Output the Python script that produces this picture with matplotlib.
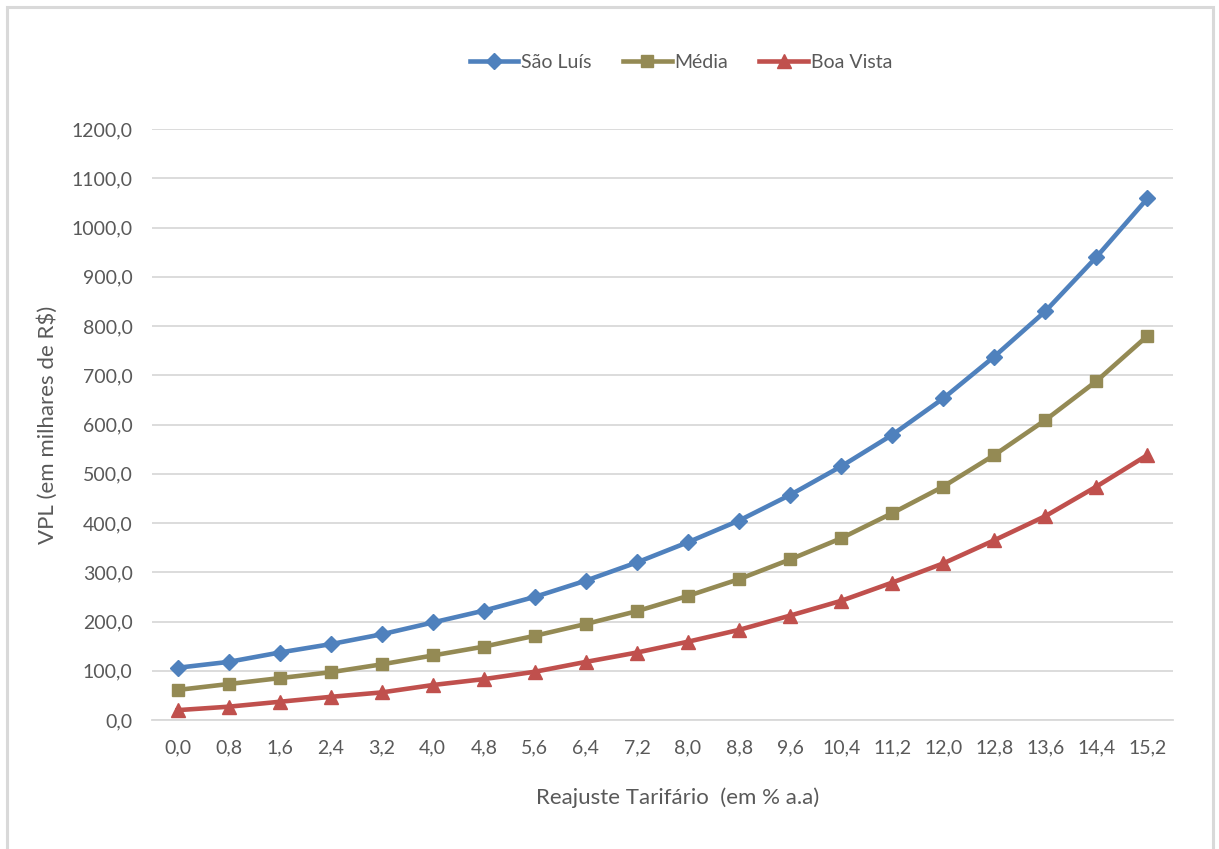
import matplotlib
matplotlib.use("Agg")
import matplotlib.pyplot as plt
from matplotlib.patches import Rectangle
from matplotlib.ticker import FuncFormatter, MultipleLocator

# Reajuste tarifário (% a.a.) and VPL (milhares de R$)
reajuste = ["0,0", "0,8", "1,6", "2,4", "3,2", "4,0", "4,8", "5,6", "6,4", "7,2",
            "8,0", "8,8", "9,6", "10,4", "11,2", "12,0", "12,8", "13,6", "14,4", "15,2"]
sao_luis = [106, 118, 137, 154, 174, 198, 222, 250, 283, 320,
            361, 405, 457, 515, 579, 653, 738, 830, 940, 1059]
media = [61, 73, 85, 97, 113, 131, 149, 171, 195, 221,
         252, 286, 326, 369, 420, 474, 538, 609, 688, 780]
boa_vista = [20, 27, 37, 47, 56, 71, 83, 98, 118, 137,
             159, 183, 212, 242, 279, 318, 365, 414, 474, 538]

plt.rcParams['font.family'] = ['Lato', 'DejaVu Sans']
text_color = "#595959"

W, H = 1219, 849
fig = plt.figure(figsize=(W / 100, H / 100), dpi=100)
fig.patch.set_facecolor("white")

# outer chart frame
fig.add_artist(Rectangle((7 / W, -0.05), (1213 - 7) / W, 1.05 - 7 / H,
                         transform=fig.transFigure, fill=False,
                         edgecolor="#d9d9d9", linewidth=2.2, clip_on=False))

left, right, top, bottom = 152, 1173, 129, 720
ax = fig.add_axes([left / W, 1 - bottom / H, (right - left) / W, (bottom - top) / H])

x = list(range(len(reajuste)))
ax.plot(x, sao_luis, color="#4F81BD", lw=3.3, marker="D", ms=8.5,
        label="São Luís", zorder=3)
ax.plot(x, media, color="#948A54", lw=3.3, marker="s", ms=8.5,
        label="Média", zorder=3)
ax.plot(x, boa_vista, color="#C0504D", lw=3.3, marker="^", ms=9.5,
        label="Boa Vista", zorder=3)

ax.set_xlim(-0.5, len(reajuste) - 0.5)
ax.set_ylim(0, 1200)
ax.yaxis.set_major_locator(MultipleLocator(100))
ax.yaxis.set_major_formatter(FuncFormatter(lambda v, p: f"{v:.1f}".replace(".", ",")))
ax.set_xticks(x)
ax.set_xticklabels(reajuste)

ax.grid(axis="y", color="#d9d9d9", linewidth=1.3, zorder=0)
ax.set_axisbelow(True)
for s in ["top", "right", "left"]:
    ax.spines[s].set_visible(False)
ax.spines["bottom"].set_color("#d9d9d9")
ax.spines["bottom"].set_linewidth(1.3)
ax.tick_params(axis="both", length=0, colors=text_color, labelsize=14)
ax.tick_params(axis="y", pad=14)
ax.tick_params(axis="x", pad=14)

ax.set_ylabel("VPL (em milhares de R$)", fontsize=16, color=text_color, labelpad=10)
ax.set_xlabel("Reajuste Tarifário  (em % a.a)", fontsize=16, color=text_color)
ax.xaxis.set_label_coords((678 - left) / (right - left), (bottom - 798) / (bottom - top))
ax.xaxis.label.set_verticalalignment("center")

leg = fig.legend(loc="center", bbox_to_anchor=(681 / W, 1 - 62 / H), ncol=3,
                 frameon=False, fontsize=14, handlelength=2.5, handletextpad=0.15,
                 columnspacing=1.6, labelcolor=text_color)

fig.savefig("out.png", dpi=100, facecolor="white")
